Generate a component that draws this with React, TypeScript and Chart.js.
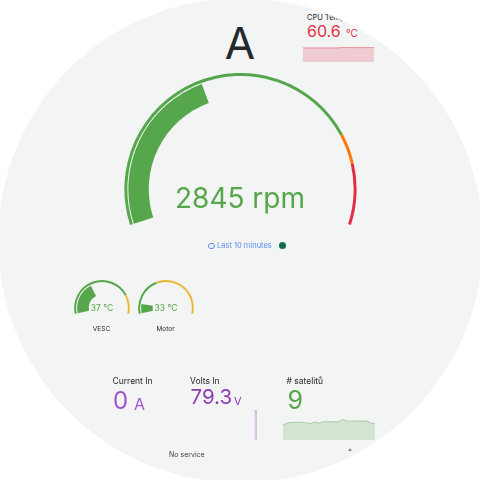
import React, { useEffect, useRef } from "react";
import { Chart, registerables } from "chart.js";

Chart.register(...registerables);

// ---- data ----
const rpmValue = 2845;
const rpmMax = 7000;
const rpmSteps = [0, 5500, 6000];
const rpmColors = ["#56a64b", "#ff780a", "#e02f44"];

const tempLabels = ["VESC", "Motor"];
const tempValues = [37, 33];
const tempMax = [100, 100];
const tempSteps = [
  [0, 80],
  [25, 55],
];
const tempColors = ["#56a64b", "#eab839"];

const cpuTemp = 60.6;
const cpuTempHistory = [60.3, 60.3, 60.3, 60.3, 60.3, 60.3, 60.3, 60.3, 60.3, 60.3, 60.4, 60.8, 60.9, 60.7, 60.7, 60.7, 60.7, 60.7, 60.7, 60.7, 60.7];

const currentIn = 0;
const voltsIn = 79.3;
const voltsHistory = [null, null, null, null, null, null, null, null, null, null, null, null, null, null, null, null, null, null, null, null, null, null, null, null, null, null, null, null, 79.3, 79.3];

const satellites = 9;
const satHistory = [7.5, 8.5, 8.8, 8.85, 8.85, 8.85, 8.4, 8.35, 9.0, 8.4, 9.15, 9.15, 9.15, 9.15, 9.2, 10.3, 9.5, 9.5, 9.5, 9.5, 9.5, 9.45, 8.4, 8.35];

const FONT = "Inter, 'Noto Sans', sans-serif";

function gaugeConfig(value: number, max: number, steps: number[], colors: string[], rotation: number, circumference: number, cutout: string, weights: number[]) {
  const min = steps[0];
  const segs = steps.map((s, i) => (i + 1 < steps.length ? steps[i + 1] : max) - s);
  let valueColor = colors[0];
  steps.forEach((s, i) => {
    if (value >= s) valueColor = colors[i];
  });
  return {
    type: "doughnut",
    data: {
      datasets: [
        { data: segs, backgroundColor: colors.slice(0, segs.length), borderWidth: 0, weight: weights[0] },
        { data: [max - min], backgroundColor: ["rgba(0,0,0,0)"], borderWidth: 0, weight: weights[1] },
        { data: [value - min, max - value], backgroundColor: [valueColor, "rgba(0,0,0,0)"], borderWidth: 0, weight: weights[2] },
      ],
    },
    options: {
      responsive: false,
      animation: false,
      events: [],
      rotation,
      circumference,
      cutout,
      layout: { padding: 0 },
      plugins: { legend: { display: false }, tooltip: { enabled: false } },
    },
  };
}

function sparkConfig(values: (number | null)[], line: string, fillColor: string, yMin: number, yMax: number) {
  return {
    type: "line",
    data: {
      labels: values.map((_, i) => String(i)),
      datasets: [
        {
          data: values,
          borderColor: line,
          backgroundColor: fillColor,
          fill: "start",
          borderWidth: 1,
          pointRadius: 0,
          tension: 0,
        },
      ],
    },
    options: {
      responsive: false,
      animation: false,
      events: [],
      layout: { padding: 0 },
      scales: { x: { display: false }, y: { display: false, min: yMin, max: yMax } },
      plugins: { legend: { display: false }, tooltip: { enabled: false } },
    },
  };
}

function ChartBox({ left, top, width, height, config }: any) {
  const ref = useRef<HTMLCanvasElement>(null);
  useEffect(() => {
    const c = new Chart(ref.current as HTMLCanvasElement, config);
    return () => c.destroy();
  }, []);
  return (
    <canvas
      ref={ref}
      width={width}
      height={height}
      style={{ position: "absolute", left, top, width, height }}
    />
  );
}

function T({ x, y, size, color = "#24292e", align = "left", weight = 400, children }: any) {
  return (
    <div
      style={{
        position: "absolute",
        left: x,
        top: y - 0.8636 * size,
        fontSize: size,
        lineHeight: `${size}px`,
        height: size,
        fontFamily: FONT,
        fontWeight: weight,
        color,
        whiteSpace: "nowrap",
        transform: align === "center" ? "translateX(-50%)" : undefined,
      }}
    >
      {children}
    </div>
  );
}

export default function App() {
  const gaugePos = [
    { left: 74, cx: 101.5 },
    { left: 138, cx: 165.5 },
  ];
  return (
    <div style={{ position: "fixed", left: 0, top: 0, width: 480, height: 480, background: "#ffffff", overflow: "hidden" }}>
      <div
        style={{
          position: "absolute",
          left: -2.5,
          top: -2.5,
          width: 485,
          height: 485,
          borderRadius: "50%",
          overflow: "hidden",
          background: "#f3f4f4",
        }}
      >
        <div style={{ position: "absolute", left: 2.5, top: 2.5, width: 480, height: 480 }}>
          <T x={240} y={59} size={44} align="center">A</T>

          <T x={307} y={20} size={7.5}>CPU Temperature</T>
          <T x={307} y={37} size={16} color="#e02f44">{cpuTemp.toFixed(1)}</T>
          <T x={346} y={37} size={10} color="#e02f44">°C</T>
          <ChartBox left={303} top={46} width={71} height={16} config={sparkConfig(cpuTempHistory, "rgba(224,47,68,0.45)", "rgba(224,47,68,0.2)", 40, 63)} />

          <ChartBox left={124} top={73} width={233} height={152} config={gaugeConfig(rpmValue, rpmMax, rpmSteps, rpmColors, -108, 216, "79%", [3, 1, 20.5])} />
          <T x={240} y={208} size={28} color="#56a64b" align="center">{rpmValue} rpm</T>

          <div style={{ position: "absolute", left: 208, top: 242.5, width: 4.5, height: 4.5, border: "1px solid #5b8ff0", borderRadius: "50%" }} />
          <T x={217} y={248} size={7.5} color="#5b8ff0">Last 10 minutes</T>
          <div style={{ position: "absolute", left: 278.5, top: 241.5, width: 7, height: 7, background: "#0e6e47", borderRadius: "50%" }} />

          {tempLabels.map((lab, i) => (
            <React.Fragment key={lab}>
              <ChartBox
                left={gaugePos[i].left}
                top={280}
                width={56}
                height={34}
                config={gaugeConfig(tempValues[i], tempMax[i], tempSteps[i], tempColors, -102.8, 205.6, "48%", [2, 1, 11.5])}
              />
              <T x={gaugePos[i].cx + 0.5} y={311} size={8.5} color="#56a64b" align="center">{tempValues[i]} °C</T>
              <T x={gaugePos[i].cx} y={332} size={6.5} align="center">{lab}</T>
            </React.Fragment>
          ))}

          <T x={112.5} y={384} size={8.5}>Current In</T>
          <T x={113} y={410} size={24} color="#a352cc">{currentIn}</T>
          <T x={134} y={410} size={16} color="#a352cc">A</T>

          <T x={190} y={384} size={8.5}>Volts In</T>
          <T x={190.5} y={405} size={20.5} color="#8f3bb8">{voltsIn.toFixed(1)}</T>
          <T x={234} y={405} size={11} color="#8f3bb8">V</T>
          <ChartBox left={185} top={410} width={72} height={30} config={sparkConfig(voltsHistory, "rgba(163,82,204,0.5)", "rgba(163,82,204,0.3)", 0, 82)} />

          <T x={286.5} y={384} size={8.5}># satelitů</T>
          <T x={287.5} y={410} size={25} color="#56a64b">{satellites}</T>
          <ChartBox left={283} top={410} width={92} height={30} config={sparkConfig(satHistory, "rgba(86,166,75,0.4)", "rgba(86,166,75,0.2)", 0, 15)} />

          <T x={169} y={457.5} size={7} color="#3a3f44">No service</T>
          <div style={{ position: "absolute", left: 348, top: 448, width: 0, height: 0, borderLeft: "2px solid transparent", borderRight: "2px solid transparent", borderBottom: "3px solid #8e8e8e" }} />
        </div>
      </div>
    </div>
  );
}
